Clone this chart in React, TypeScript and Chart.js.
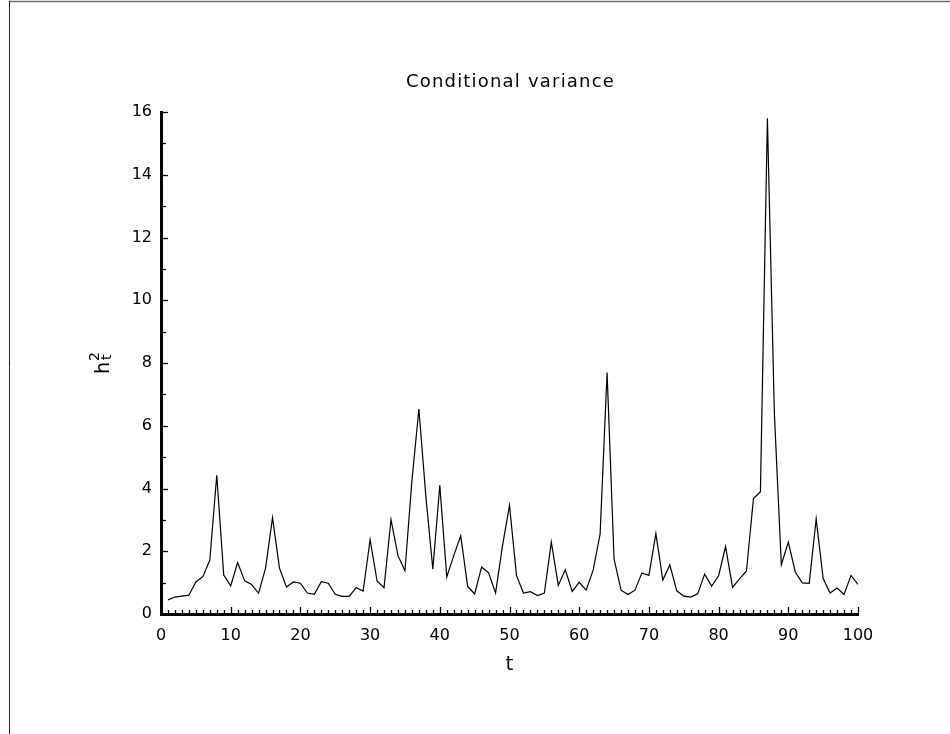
import React, { useEffect, useRef } from "react";
import { Chart, registerables } from "chart.js";

Chart.register(...registerables);

const TITLE = "Conditional variance";
const X_TITLE = "t";
const Y_TITLE_BASE = "h";
const Y_TITLE_SUP = "2";
const Y_TITLE_SUB = "t";

// conditional variance h_t^2 for t = 1..100
const VARIANCE = [
  0.45, 0.54, 0.57, 0.6, 1.02, 1.19, 1.71, 4.42, 1.24, 0.9,
  1.64, 1.06, 0.94, 0.66, 1.46, 3.07, 1.46, 0.86, 1.02, 0.98,
  0.67, 0.63, 1.03, 0.98, 0.63, 0.56, 0.56, 0.84, 0.73, 2.37,
  1.05, 0.84, 3.01, 1.86, 1.38, 4.25, 6.53, 3.75, 1.43, 4.1,
  1.18, 1.86, 2.49, 0.88, 0.64, 1.5, 1.31, 0.67, 2.18, 3.46,
  1.23, 0.67, 0.71, 0.59, 0.67, 2.29, 0.91, 1.41, 0.72, 1.01,
  0.76, 1.4, 2.55, 7.7, 1.76, 0.76, 0.62, 0.76, 1.31, 1.23,
  2.56, 1.08, 1.57, 0.74, 0.57, 0.54, 0.64, 1.27, 0.89, 1.22,
  2.15, 0.85, 1.12, 1.37, 3.68, 3.9, 15.8, 6.4, 1.57, 2.29,
  1.34, 0.99, 0.98, 3.03, 1.13, 0.67, 0.83, 0.62, 1.23, 0.94,
];
const T_START = 1;

const X_TICKS = [0, 10, 20, 30, 40, 50, 60, 70, 80, 90, 100];
const Y_TICKS = [0, 2, 4, 6, 8, 10, 12, 14, 16];
const X_MINOR_STEP = 1;
const Y_MINOR_STEP = 1;

const FONT = "'DejaVu Sans', sans-serif";

const decorPlugin = {
  id: "decor",
  afterDraw(chart: any) {
    const ctx: CanvasRenderingContext2D = chart.ctx;
    const xs = chart.scales.x;
    const ys = chart.scales.y;
    ctx.save();
    // page frame
    ctx.strokeStyle = "#707070";
    ctx.lineWidth = 1.5;
    ctx.beginPath();
    ctx.moveTo(9, 1.5);
    ctx.lineTo(950, 1.5);
    ctx.stroke();
    ctx.strokeStyle = "#222";
    ctx.lineWidth = 1;
    ctx.beginPath();
    ctx.moveTo(9.5, 1);
    ctx.lineTo(9.5, 734);
    ctx.stroke();

    // inward tick marks
    ctx.strokeStyle = "#000";
    ctx.lineWidth = 1.3;
    const yb = ys.getPixelForValue(ys.min);
    const xl = xs.getPixelForValue(xs.min);
    for (let v = xs.min; v <= xs.max; v += X_MINOR_STEP) {
      const px = Math.round(xs.getPixelForValue(v)) + 0.5;
      const len = X_TICKS.includes(v) ? 7 : 4;
      ctx.beginPath();
      ctx.moveTo(px, yb);
      ctx.lineTo(px, yb - len);
      ctx.stroke();
    }
    for (let v = ys.min; v <= ys.max; v += Y_MINOR_STEP) {
      const py = Math.round(ys.getPixelForValue(v)) + 0.5;
      const len = Y_TICKS.includes(v) ? 7 : 5;
      ctx.beginPath();
      ctx.moveTo(xl, py);
      ctx.lineTo(xl + len, py);
      ctx.stroke();
    }

    // title
    ctx.fillStyle = "#000";
    const cx = (chart.chartArea.left + chart.chartArea.right) / 2;
    ctx.font = `18px ${FONT}`;
    (ctx as any).letterSpacing = "1.2px";
    ctx.textAlign = "center";
    ctx.textBaseline = "alphabetic";
    ctx.fillText(TITLE, cx + 1, 87);

    // x title
    ctx.font = `20px ${FONT}`;
    (ctx as any).letterSpacing = "0px";
    ctx.fillText(X_TITLE, cx, 670);

    // y title: h with superscript 2 and subscript t, rotated
    ctx.translate(109, 374);
    ctx.rotate(-Math.PI / 2);
    ctx.textAlign = "left";
    ctx.font = `19px ${FONT}`;
    ctx.fillText(Y_TITLE_BASE, 0, 0);
    const w = ctx.measureText(Y_TITLE_BASE).width;
    ctx.font = `14px ${FONT}`;
    ctx.fillText(Y_TITLE_SUP, w + 1, -10);
    ctx.fillText(Y_TITLE_SUB, w + 2, 2);
    ctx.restore();
  },
};

export default function App() {
  const ref = useRef<HTMLCanvasElement | null>(null);
  useEffect(() => {
    if (!ref.current) return;
    const points = VARIANCE.map((v, i) => ({ x: T_START + i, y: v }));
    const chart = new Chart(ref.current, {
      type: "line",
      data: {
        datasets: [
          {
            data: points,
            borderColor: "#000",
            borderWidth: 1.2,
            pointRadius: 0,
            tension: 0,
            fill: false,
          },
        ],
      },
      options: {
        animation: false,
        responsive: false,
        devicePixelRatio: 1,
        layout: { padding: { left: 0, right: 92, top: 112, bottom: 0 } },
        plugins: {
          legend: { display: false },
          tooltip: { enabled: false },
          title: { display: false },
        },
        scales: {
          x: {
            type: "linear",
            min: 0,
            max: 100,
            afterBuildTicks: (s: any) => {
              s.ticks = X_TICKS.map((v) => ({ value: v }));
            },
            afterFit: (s: any) => {
              s.height = 120;
            },
            grid: { display: true, drawOnChartArea: false, drawTicks: false },
            border: { display: true, color: "#000", width: 3 },
            ticks: {
              color: "#000",
              font: { family: "DejaVu Sans", size: 16 },
              padding: 12,
              maxRotation: 0,
              autoSkip: false,
            },
          },
          y: {
            type: "linear",
            min: 0,
            max: 16,
            afterBuildTicks: (s: any) => {
              s.ticks = Y_TICKS.map((v) => ({ value: v }));
            },
            afterFit: (s: any) => {
              s.width = 161;
            },
            grid: { display: true, drawOnChartArea: false, drawTicks: false },
            border: { display: true, color: "#000", width: 3 },
            ticks: {
              color: "#000",
              font: { family: "DejaVu Sans", size: 16 },
              padding: 9,
              autoSkip: false,
            },
          },
        },
      },
      plugins: [decorPlugin],
    });
    return () => chart.destroy();
  }, []);
  return (
    <div
      style={{
        position: "fixed",
        left: 0,
        top: 0,
        width: 950,
        height: 734,
        background: "#fff",
      }}
    >
      <canvas ref={ref} width={950} height={734} style={{ width: 950, height: 734, display: "block" }} />
    </div>
  );
}
